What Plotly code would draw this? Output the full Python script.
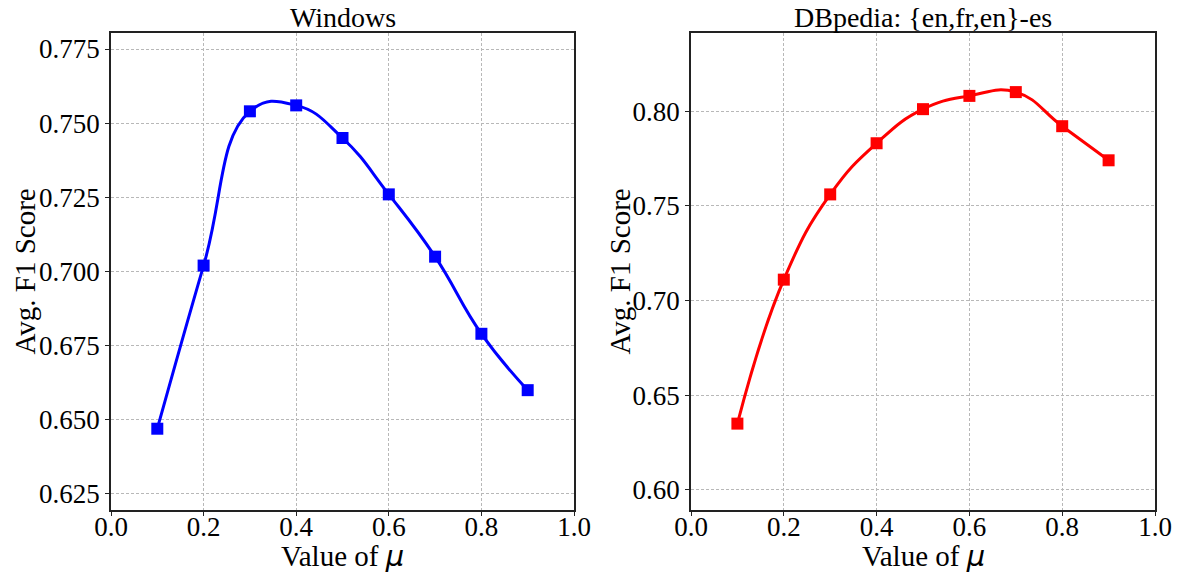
import plotly.graph_objects as go

# mu values and average F1 scores per dataset
mu = [0.1, 0.2, 0.3, 0.4, 0.5, 0.6, 0.7, 0.8, 0.9]
f1_windows = [0.647, 0.702, 0.754, 0.756, 0.745, 0.726, 0.705, 0.679, 0.660]
f1_dbpedia = [0.635, 0.711, 0.756, 0.783, 0.801, 0.808, 0.810, 0.792, 0.774]

titles = ["Windows", "DBpedia: {en,fr,en}-es"]
x_ticks = [0.0, 0.2, 0.4, 0.6, 0.8, 1.0]
y_ticks_left = [0.625, 0.650, 0.675, 0.700, 0.725, 0.750, 0.775]
y_ticks_right = [0.60, 0.65, 0.70, 0.75, 0.80]

FONT = "Liberation Serif, Times New Roman, serif"
W, H = 1178, 575

fig = go.Figure()

series = [(f1_windows, "blue", "x", "y"), (f1_dbpedia, "red", "x2", "y2")]
for vals, color, xa, ya in series:
    fig.add_trace(go.Scatter(
        x=mu, y=vals, xaxis=xa, yaxis=ya,
        mode="lines+markers",
        line=dict(color=color, width=3, shape="spline", smoothing=1.3),
        marker=dict(symbol="square", size=12, color=color),
        showlegend=False,
    ))

axis_common = dict(
    showline=True, linecolor="#222222", linewidth=1.5, mirror=True,
    ticks="outside", ticklen=4, tickwidth=1.2, tickcolor="#222222",
    showgrid=True, gridcolor="#b8b8b8", griddash="3px,2px", gridwidth=1,
    zeroline=False, automargin=False,
    tickfont=dict(family=FONT, size=27, color="black"),
)
x_extra = dict(ticklabelstandoff=-12)

y0, y1 = 1 - 510 / H, 1 - 33 / H
fig.update_layout(
    width=W, height=H,
    margin=dict(l=0, r=0, t=0, b=0, autoexpand=False),
    plot_bgcolor="white", paper_bgcolor="white",
    xaxis=dict(domain=[111 / W, 574 / W], range=[0, 1], tickvals=x_ticks,
               tickformat=".1f", anchor="y", **axis_common, **x_extra),
    yaxis=dict(domain=[y0, y1], range=[0.6196, 0.7804], tickvals=y_ticks_left,
               tickformat=".3f", anchor="x", **axis_common),
    xaxis2=dict(domain=[691 / W, 1155 / W], range=[0, 1], tickvals=x_ticks,
                tickformat=".1f", anchor="y2", **axis_common, **x_extra),
    yaxis2=dict(domain=[y0, y1], range=[0.5894, 0.8412], tickvals=y_ticks_right,
                tickformat=".2f", anchor="x2", **axis_common),
)

mu_label = 'Value of <span style="font-family:DejaVu Sans"><i>μ</i></span>'
annots = []
for i, xd in enumerate([(111, 574), (691, 1155)]):
    cx = (xd[0] + xd[1]) / 2 / W
    annots.append(dict(text=titles[i], x=cx, y=1 - 17 / H, xref="paper", yref="paper",
                       showarrow=False, font=dict(family=FONT, size=28, color="black"),
                       xanchor="center", yanchor="middle"))
    annots.append(dict(text=mu_label, x=cx, y=1 - 556 / H, xref="paper", yref="paper",
                       showarrow=False, font=dict(family=FONT, size=29, color="black"),
                       xanchor="center", yanchor="middle"))
for xpix in (24, 619):
    annots.append(dict(text="Avg. F1 Score", x=xpix / W, y=(y0 + y1) / 2, xref="paper", yref="paper",
                       showarrow=False, textangle=-90, font=dict(family=FONT, size=29, color="black"),
                       xanchor="center", yanchor="middle"))
fig.update_layout(annotations=annots)

fig.write_html("out.html")
